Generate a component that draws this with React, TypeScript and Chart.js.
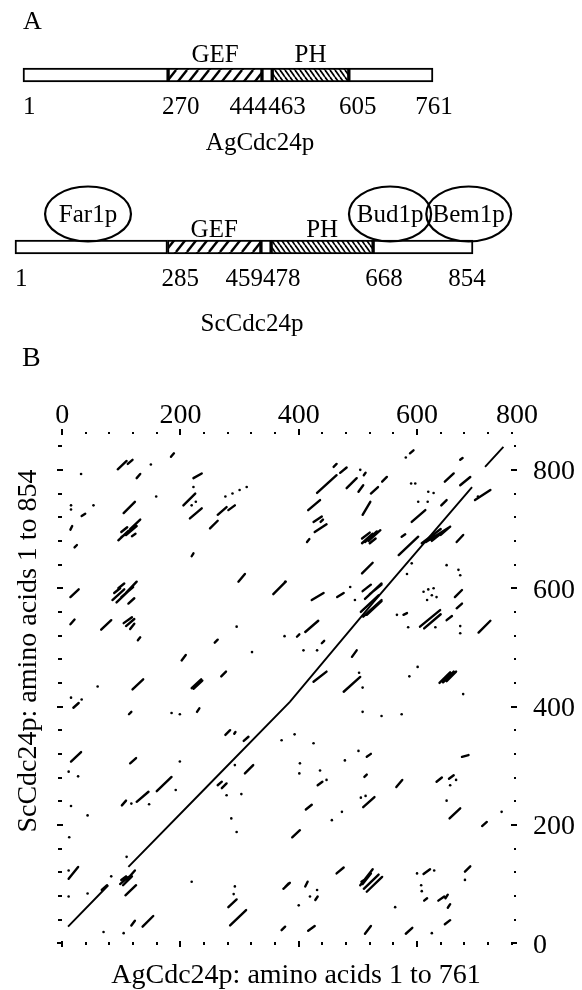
import React, { useEffect, useRef } from 'react';
import { Chart, registerables } from 'chart.js';

Chart.register(...registerables);

const SERIF = '"Liberation Serif", "Times New Roman", "DejaVu Serif", serif';

// ---------- Panel A data ----------
const agBounds = [1, 270, 444, 463, 605, 761];
const agKinds = ['plain', 'gef', 'plain', 'ph', 'plain'];
const scBounds = [1, 285, 459, 478, 668, 854];
const scKinds = ['plain', 'gef', 'plain', 'ph', 'plain'];
const proteinNames = ['AgCdc24p', 'ScCdc24p'];
const domainLabels: Record<string, string> = { gef: 'GEF', ph: 'PH' };
const bindingNames = ['Far1p', 'Bud1p', 'Bem1p'];
const bindingStart = [57, 623, 767];
const bindingEnd = [217, 776, 925];

// ---------- Panel B data ----------
const xTickLabels = [0, 200, 400, 600, 800];
const yTickLabels = [0, 200, 400, 600, 800];
const agLength = 761;
const scLength = 854;

const diagonal: (number[] | null)[] = [
  [10, 28], [78, 98], null,
  [112, 129], [250, 270], [385, 408], [526, 576], [693, 771], null,
  [715, 805], [746, 839],
];

const segments = [
  [94, 801, 109, 815], [111, 810, 119, 817], [184, 822, 189, 828], [126, 786, 132, 793],
  [222, 786, 236, 794], [205, 740, 225, 760], [216, 718, 236, 735], [250, 701, 263, 714],
  [263, 724, 278, 737], [281, 732, 292, 740], [104, 727, 123, 746], [33, 722, 39, 726],
  [14, 699, 17, 705], [21, 669, 25, 673], [219, 654, 222, 659], [298, 611, 309, 624],
  [357, 590, 378, 611], [14, 585, 28, 598],
  [95, 681, 112, 697], [100, 686, 118, 700], [108, 690, 126, 705], [115, 700, 132, 716], [100, 695, 110, 703], [118, 688, 124, 692],
  [85, 580, 105, 598], [92, 576, 115, 598], [100, 585, 120, 602], [108, 592, 126, 611], [95, 600, 105, 608], [112, 574, 122, 583], [88, 592, 98, 600],
  [431, 761, 464, 791], [459, 805, 464, 810], [470, 795, 481, 804], [481, 769, 498, 786], [501, 763, 509, 774], [522, 760, 534, 771],
  [541, 780, 549, 788], [588, 828, 594, 833], [416, 732, 436, 749], [425, 712, 439, 721], [427, 695, 447, 708], [437, 712, 441, 716],
  [414, 678, 418, 683], [508, 724, 521, 746],
  [507, 676, 525, 692], [512, 678, 532, 696], [518, 680, 538, 698], [507, 684, 520, 694], [520, 676, 530, 684],
  [507, 625, 525, 643], [574, 687, 580, 691], [591, 712, 614, 732], [641, 740, 650, 749], [647, 780, 662, 794], [673, 774, 690, 788],
  [698, 749, 724, 766], [569, 656, 602, 687],
  [608, 676, 640, 700], [615, 678, 656, 704], [625, 680, 650, 700], [640, 690, 656, 704],
  [667, 678, 678, 690],
  [509, 552, 540, 580], [505, 560, 535, 588], [515, 555, 540, 578], [512, 582, 540, 608], [520, 590, 540, 606], [508, 595, 522, 606],
  [664, 585, 676, 597], [422, 580, 442, 592], [465, 585, 476, 592], [510, 791, 513, 795], [673, 817, 677, 820],
  [411, 526, 433, 545], [490, 484, 498, 495], [476, 425, 504, 450], [425, 442, 447, 459],
  [605, 535, 639, 563], [612, 532, 640, 556], [650, 546, 659, 553], [667, 566, 676, 574], [704, 525, 724, 545],
  [638, 440, 656, 458], [644, 441, 662, 459], [650, 443, 666, 459],
  [439, 507, 443, 511], [397, 518, 401, 522], [515, 315, 522, 320], [676, 315, 687, 318], [577, 555, 583, 558],
  [14, 539, 21, 547], [66, 530, 83, 546], [104, 541, 118, 551], [108, 536, 122, 548], [115, 531, 122, 540], [128, 512, 132, 517],
  [202, 478, 209, 487], [119, 429, 137, 446], [219, 431, 235, 446], [222, 430, 237, 444], [269, 451, 277, 459], [258, 508, 263, 513],
  [19, 398, 28, 406], [113, 387, 117, 391], [228, 391, 232, 397], [276, 352, 284, 360], [291, 354, 293, 357], [307, 342, 315, 349],
  [15, 307, 32, 323], [115, 304, 125, 313], [309, 287, 323, 301],
  [160, 257, 185, 281], [126, 239, 146, 256], [101, 233, 108, 241], [263, 267, 270, 273], [270, 262, 278, 270],
  [11, 109, 27, 129], [107, 81, 125, 98],
  [98, 100, 112, 112], [103, 98, 118, 113], [110, 108, 123, 123], [100, 107, 108, 113],
  [67, 90, 76, 98], [281, 61, 295, 74], [284, 30, 311, 56], [136, 28, 154, 46], [374, 92, 385, 102], [117, 30, 123, 38], [371, 22, 377, 28],
  [565, 264, 575, 276], [633, 273, 642, 280], [654, 278, 662, 284], [509, 230, 528, 247], [412, 226, 422, 234], [655, 211, 673, 228],
  [710, 198, 718, 205], [389, 179, 402, 191], [464, 118, 476, 128],
  [504, 98, 525, 125], [508, 100, 522, 118], [515, 87, 541, 112], [510, 92, 535, 116], [506, 104, 515, 110],
  [681, 121, 690, 130], [636, 72, 646, 79], [648, 76, 652, 82], [652, 60, 656, 66], [612, 72, 617, 76], [611, 117, 622, 125],
  [647, 32, 656, 39], [416, 21, 427, 29], [512, 16, 522, 29], [581, 16, 592, 26],
  [411, 96, 415, 104], [377, 95, 383, 101], [428, 73, 432, 79], [432, 267, 440, 273], [511, 281, 515, 285],
];

const dots = [
  [150, 809], [32, 793], [159, 755], [53, 740], [15, 740], [15, 733], [222, 771], [219, 740], [226, 746], [276, 755], [288, 760], [300, 766], [312, 771],
  [581, 821], [504, 800], [602, 746], [618, 746], [590, 777], [597, 777], [619, 763], [628, 761], [591, 642], [583, 624], [650, 639], [670, 631], [673, 622],
  [487, 602], [495, 580], [377, 611], [611, 594], [619, 598], [628, 600], [625, 588], [633, 585], [617, 580], [703, 755],
  [408, 495], [431, 495], [502, 457], [508, 432], [540, 384], [574, 387], [508, 391], [393, 353], [425, 338], [478, 309], [501, 325], [402, 304], [436, 292],
  [566, 555], [585, 534], [631, 534], [673, 536], [673, 524], [601, 467], [587, 451], [678, 421],
  [15, 415], [185, 389], [199, 387], [199, 307], [292, 301], [295, 535], [321, 492], [376, 519], [371, 343], [60, 434], [33, 412],
  [278, 250], [303, 252], [15, 232], [43, 216], [12, 179], [286, 211], [295, 188], [83, 113], [109, 146], [219, 104], [43, 84], [11, 79], [11, 123],
  [292, 96], [290, 83], [70, 19], [104, 17], [192, 259], [117, 236], [147, 235], [11, 290], [27, 282],
  [431, 90], [400, 64], [419, 79], [447, 276], [600, 118], [681, 107], [607, 98], [608, 88], [625, 17], [563, 61], [456, 208], [473, 222], [743, 222],
  [656, 267], [666, 276], [505, 246], [513, 249], [401, 287], [650, 241], [629, 123],
];

// ---------- helpers ----------
function makeFill(kind: string): string | CanvasPattern {
  if (kind === 'plain') return '#ffffff';
  const c = document.createElement('canvas');
  const g = c.getContext('2d')!;
  if (kind === 'gef') {
    c.width = 11; c.height = 14;
    g.fillStyle = '#fff'; g.fillRect(0, 0, 11, 14);
    g.strokeStyle = '#000'; g.lineWidth = 2.4;
    for (const o of [-11, 0, 11]) {
      g.beginPath(); g.moveTo(o, 14); g.lineTo(o + 11, 0); g.stroke();
    }
  } else {
    c.width = 5; c.height = 7;
    g.fillStyle = '#fff'; g.fillRect(0, 0, 5, 7);
    g.strokeStyle = '#000'; g.lineWidth = 1.7;
    for (const o of [-5, 0, 5]) {
      g.beginPath(); g.moveTo(o, 0); g.lineTo(o + 5, 7); g.stroke();
    }
  }
  return g.createPattern(c, 'repeat')!;
}

function txt(ctx: CanvasRenderingContext2D, s: string, x: number, y: number, align: CanvasTextAlign, size: number, baseline: CanvasTextBaseline = 'alphabetic') {
  ctx.font = `${size}px ${SERIF}`;
  ctx.textAlign = align;
  ctx.textBaseline = baseline;
  ctx.fillText(s, x, y);
}

const agLabelAlign: CanvasTextAlign[] = ['left', 'left', 'right', 'left', 'center', 'center'];
const agLabelDx = [0, -6, 5, -4, 9, 1];
const scLabelAlign: CanvasTextAlign[] = ['left', 'left', 'right', 'left', 'left', 'center'];
const scLabelDx = [0, -6, 2, -8, -8, -6];

const panelAPlugin = {
  id: 'panelA',
  afterDraw(chart: any) {
    const ctx: CanvasRenderingContext2D = chart.ctx;
    const xa = chart.scales.xa, xb = chart.scales.xb, ys = chart.scales.y;
    const yAg = ys.getPixelForValue(0);
    const ySc = ys.getPixelForValue(1);
    ctx.save();
    ctx.fillStyle = '#000';
    txt(ctx, 'A', 23, 29, 'left', 26);

    const rows = [
      { sc: xa, bounds: agBounds, kinds: agKinds, y: yAg, al: agLabelAlign, dx: agLabelDx, domY: yAg - 13, nameX: 260, nameY: yAg + 75 },
      { sc: xb, bounds: scBounds, kinds: scKinds, y: ySc, al: scLabelAlign, dx: scLabelDx, domY: ySc - 10, nameX: 252, nameY: ySc + 84 },
    ];
    rows.forEach((r, ri) => {
      r.kinds.forEach((k, i) => {
        if (domainLabels[k]) {
          const cx = (r.sc.getPixelForValue(r.bounds[i]) + r.sc.getPixelForValue(r.bounds[i + 1])) / 2;
          txt(ctx, domainLabels[k], cx, r.domY, 'center', 25);
        }
      });
      r.bounds.forEach((b, i) => {
        txt(ctx, String(b), r.sc.getPixelForValue(b) + r.dx[i], r.y + 39, r.al[i], 25);
      });
      txt(ctx, proteinNames[ri], r.nameX, r.nameY, 'center', 25);
    });

    // binding-partner ellipses on ScCdc24p
    ctx.strokeStyle = '#000';
    ctx.lineWidth = 2.2;
    bindingNames.forEach((n, i) => {
      const x1 = xb.getPixelForValue(bindingStart[i]);
      const x2 = xb.getPixelForValue(bindingEnd[i]);
      const cx = (x1 + x2) / 2, rx = (x2 - x1) / 2;
      const cy = ySc - 7 - 26;
      ctx.beginPath();
      ctx.ellipse(cx, cy, rx, 27.5, 0, 0, Math.PI * 2);
      ctx.stroke();
      txt(ctx, n, cx, cy + 8, 'center', 25);
    });
    ctx.restore();
  },
};

const panelBPlugin = {
  id: 'panelB',
  afterDraw(chart: any) {
    const ctx: CanvasRenderingContext2D = chart.ctx;
    const { top, bottom, left, right } = chart.chartArea;
    const xs = chart.scales.x, ys = chart.scales.y;
    ctx.save();
    ctx.fillStyle = '#000';
    const step = 40;
    for (let v = 0; v <= agLength; v += step) {
      const px = Math.round(xs.getPixelForValue(v));
      if (v % 200 === 0) {
        ctx.fillRect(px - 1, top - 3, 2, 6);
        ctx.fillRect(px - 1, bottom - 4, 2, 6);
      } else {
        ctx.fillRect(px - 1, top, 2, 2);
        ctx.fillRect(px - 1, bottom - 3, 2, 3);
      }
    }
    for (let v = 0; v <= scLength; v += step) {
      const py = Math.round(ys.getPixelForValue(v));
      if (v % 200 === 0) {
        ctx.fillRect(left - 1, py - 1, 6, 2);
        ctx.fillRect(right - 6, py - 1, 6, 2);
      } else {
        ctx.fillRect(left, py - 1, 4, 2);
        ctx.fillRect(right - 3, py - 1, 2, 2);
      }
    }
    xTickLabels.forEach((v) => {
      const px = xs.getPixelForValue(Math.min(v, xs.max));
      txt(ctx, String(v), px, top - 9, 'center', 28);
    });
    yTickLabels.forEach((v) => {
      const py = ys.getPixelForValue(Math.min(v, ys.max));
      txt(ctx, String(v), right + 16, py + 2, 'left', 28, 'middle');
    });
    txt(ctx, 'AgCdc24p: amino acids 1 to 761', 296, 983, 'center', 28);
    ctx.save();
    ctx.translate(36, 651);
    ctx.rotate(-Math.PI / 2);
    txt(ctx, 'ScCdc24p: amino acids 1 to 854', 0, 0, 'center', 28);
    ctx.restore();
    txt(ctx, 'B', 22, 366, 'left', 28);
    ctx.restore();
  },
};

export default function App() {
  const refA = useRef<HTMLCanvasElement>(null);
  const refB = useRef<HTMLCanvasElement>(null);

  useEffect(() => {
    const barDs = (bounds: number[], kinds: string[], axis: string, row: number) =>
      kinds.map((k, i) => ({
        xAxisID: axis,
        data: row === 0 ? [[bounds[i], bounds[i + 1]], null] : [null, [bounds[i], bounds[i + 1]]],
        backgroundColor: makeFill(k),
        borderColor: '#000',
        borderWidth: 2,
        borderSkipped: false,
        barThickness: 14,
        grouped: false,
        clip: false,
      }));

    const chartA = new Chart(refA.current!, {
      type: 'bar',
      data: {
        labels: proteinNames,
        datasets: [...barDs(agBounds, agKinds, 'xa', 0), ...barDs(scBounds, scKinds, 'xb', 1)] as any,
      },
      options: {
        indexAxis: 'y',
        responsive: false,
        animation: false,
        events: [],
        layout: { padding: { left: 15, right: 109, top: 75, bottom: 743 } },
        plugins: { legend: { display: false }, tooltip: { enabled: false } },
        scales: {
          y: { type: 'category', display: false, offset: false },
          xa: { type: 'linear', axis: 'x', display: false, min: -13.83, max: 835.2 },
          xb: { type: 'linear', axis: 'x', display: false, min: 1, max: scLength },
        } as any,
      },
      plugins: [panelAPlugin],
    });

    const diagPts = diagonal.map((p) => (p ? { x: p[0], y: p[1] } : { x: NaN, y: NaN }));
    const segPts: { x: number; y: number }[] = [];
    segments.forEach((s) => {
      segPts.push({ x: s[0], y: s[1] }, { x: s[2], y: s[3] }, { x: NaN, y: NaN });
    });
    const dotPts = dots.map((d) => ({ x: d[0], y: d[1] }));

    const chartB = new Chart(refB.current!, {
      type: 'scatter',
      data: {
        datasets: [
          { data: diagPts, showLine: true, borderColor: '#000', borderWidth: 1.9, pointRadius: 0, spanGaps: false },
          { data: segPts, showLine: true, borderColor: '#000', borderWidth: 2.4, borderCapStyle: 'round', pointRadius: 0, spanGaps: false },
          { data: dotPts, showLine: false, pointRadius: 1.3, backgroundColor: '#000', borderWidth: 0 },
        ] as any,
      },
      options: {
        responsive: false,
        animation: false,
        events: [],
        layout: { padding: { left: 58, right: 65, top: 432, bottom: 45 } },
        plugins: { legend: { display: false }, tooltip: { enabled: false } },
        scales: {
          x: { type: 'linear', display: false, min: -7, max: 769 },
          y: { type: 'linear', display: false, min: -3, max: 864 },
        },
      },
      plugins: [panelBPlugin],
    });

    return () => {
      chartA.destroy();
      chartB.destroy();
    };
  }, []);

  const cs: React.CSSProperties = { position: 'absolute', left: 0, top: 0, width: 582, height: 990 };
  return (
    <div style={{ position: 'absolute', left: 0, top: 0, width: 582, height: 990, background: '#fff' }}>
      <canvas ref={refA} width={582} height={990} style={cs} />
      <canvas ref={refB} width={582} height={990} style={cs} />
    </div>
  );
}
